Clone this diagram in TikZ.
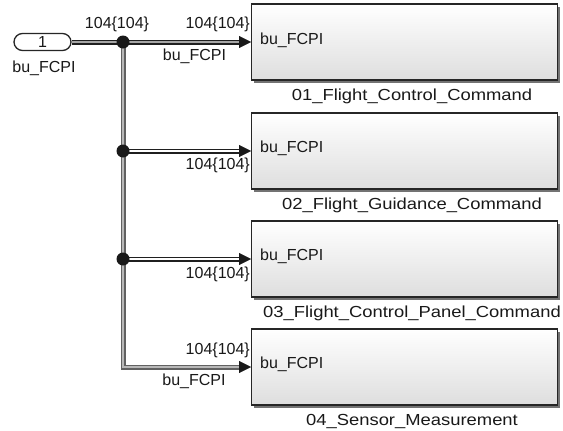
\documentclass[tikz,border=0pt]{standalone}
\usepackage{fontspec}
\setmainfont{Liberation Sans}
\newfontfamily\widefont{Liberation Sans}[FakeStretch=1.15]
\usetikzlibrary{arrows.meta,shadows}
\begin{document}
\begin{tikzpicture}[x=1pt,y=-1pt,
  lbl/.style={inner sep=0pt, font=\fontsize{16}{18}\selectfont, text=black!90},
  blabel/.style={inner sep=0pt, font=\widefont\fontsize{16}{18}\selectfont, text=black!90, anchor=base},
  blk/.style={draw=black!85, line width=1.3pt, top color=white, bottom color=black!13,
    minimum width=306pt, minimum height=76pt, inner sep=0pt, anchor=west,
    drop shadow={shadow xshift=2.5pt,shadow yshift=-2.5pt,fill=black!55,opacity=1}},
  tipA/.style={-{Triangle[length=12pt,width=12pt,line width=0.4pt,color=black!90]}},
  busout/.style={line width=5pt, draw=black!88, tipA},
  busin/.style={line width=1.6pt, draw=#1, shorten >=12pt},
  busin/.default=white,
  dotn/.style={circle, fill=black!90, minimum size=13pt, inner sep=0pt}
]
\useasboundingbox[fill=white] (0,0) rectangle (563,431);

% inport
\node[draw=black!85, line width=1.3pt, rounded corners=8.5pt, minimum width=57pt,
  minimum height=17pt, inner sep=0pt, fill=white, lbl] (inp) at (42.5,42) {1};
\node[lbl, anchor=base] (inpl) at (44,72) {bu\_FCPI};

% blocks
\node[blk] (b1) at (251,42) {};
\node[blk] (b2) at (251,151) {};
\node[blk] (b3) at (251,259) {};
\node[blk] (b4) at (251,367) {};

\node[lbl, anchor=west] (b1t) at ([xshift=9pt,yshift=2pt]b1.west) {bu\_FCPI};
\node[lbl, anchor=west] (b2t) at ([xshift=9pt,yshift=3pt]b2.west) {bu\_FCPI};
\node[lbl, anchor=west] (b3t) at ([xshift=9pt,yshift=3pt]b3.west) {bu\_FCPI};
\node[lbl, anchor=west] (b4t) at ([xshift=9pt,yshift=3pt]b4.west) {bu\_FCPI};

\node[blabel] (b1l) at (412,100.5) {01\_Flight\_Control\_Command};
\node[blabel] (b2l) at (412,209.5) {02\_Flight\_Guidance\_Command};
\node[blabel] (b3l) at (412,317.5) {03\_Flight\_Control\_Panel\_Command};
\node[blabel] (b4l) at (412,425.5) {04\_Sensor\_Measurement};

% junction points
\coordinate (j1) at (123,42);
\coordinate (j2) at (123,151);
\coordinate (j3) at (123,259);

% bus lines: outer
\draw[busout, draw=black!62] (j1) |- (b4.west);
\draw[busout] (inp.east) -- (b1.west);
\draw[busout] (j2) -- (b2.west);
\draw[busout] (j3) -- (b3.west);
% bus lines: inner
\draw[busin=black!28] (j1) |- (b4.west);
\draw[busin=black!35] (inp.east) -- (b1.west);
\draw[busin] (j2) -- (b2.west);
\draw[busin] (j3) -- (b3.west);

% junction dots
\node[dotn] (d1) at (j1) {};
\node[dotn] (d2) at (j2) {};
\node[dotn] (d3) at (j3) {};

% line labels
\node[lbl, anchor=base] (l1a) at (117,28.5) {104\{104\}};
\node[lbl, anchor=base east] (l1b) at (250,28.5) {104\{104\}};
\node[lbl, anchor=base] (l1c) at (194.5,60) {bu\_FCPI};
\node[lbl, anchor=base east] (l2) at (250,169) {104\{104\}};
\node[lbl, anchor=base east] (l3) at (250,278) {104\{104\}};
\node[lbl, anchor=base east] (l4a) at (250,354) {104\{104\}};
\node[lbl, anchor=base] (l4b) at (194,385) {bu\_FCPI};
\end{tikzpicture}
\end{document}
